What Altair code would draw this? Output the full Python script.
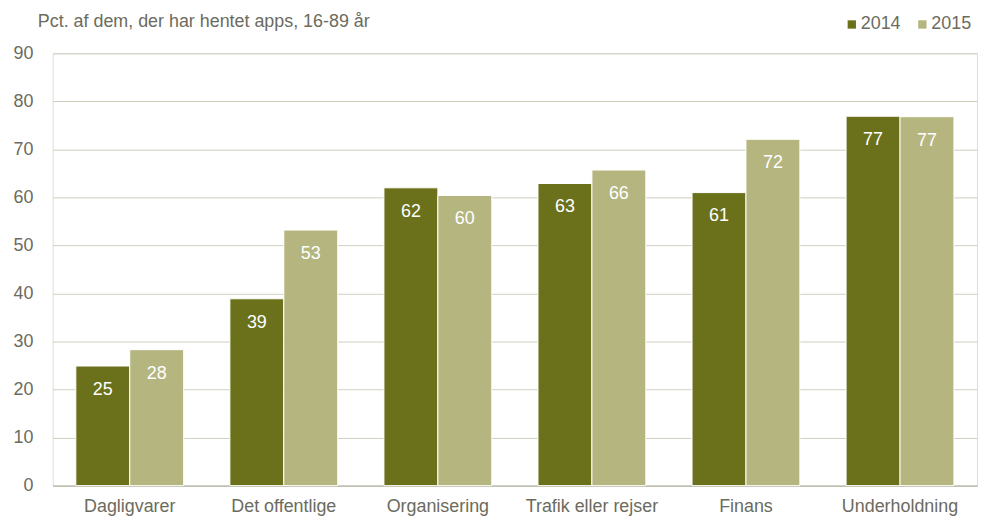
import altair as alt
import pandas as pd

categories = ["Dagligvarer", "Det offentlige", "Organisering", "Trafik eller rejser", "Finans", "Underholdning"]
years = ["2014", "2015"]
values_2014 = [24.9, 38.9, 62.0, 62.9, 61.0, 76.9]
values_2015 = [28.3, 53.2, 60.4, 65.7, 72.1, 76.8]
title_text = "Pct. af dem, der har hentet apps, 16-89 år"
y_ticks = [0, 10, 20, 30, 40, 50, 60, 70, 80, 90]

rows = []
for c, a, b in zip(categories, values_2014, values_2015):
    rows.append({"kategori": c, "år": "2014", "værdi": a, "label": str(round(a))})
    rows.append({"kategori": c, "år": "2015", "værdi": b, "label": str(round(b))})
df = pd.DataFrame(rows)

FONT = "Liberation Sans, Arial, sans-serif"
TXT = "#6b6b5e"
colors = ["#6b711b", "#b5b57f"]

x = alt.X("kategori:N", sort=categories, title=None,
          scale=alt.Scale(paddingInner=0.3, paddingOuter=0.15),
          axis=alt.Axis(labelAngle=0, labelFontSize=18, labelColor=TXT, labelFont=FONT,
                        ticks=False, domainColor="#b9b9a8", domainWidth=1.5, labelPadding=12))
y = alt.Y("værdi:Q", title=None,
          scale=alt.Scale(domain=[0, 90], nice=False),
          axis=alt.Axis(values=y_ticks, labelFontSize=18, labelColor=TXT, labelFont=FONT,
                        ticks=False, domain=False, labelPadding=20,
                        gridColor="#cfcfc0", gridWidth=1))
xo = alt.XOffset("år:N", sort=years, scale=alt.Scale(paddingInner=0))

base = alt.Chart(df)

bars = base.mark_bar(stroke="white", strokeWidth=1).encode(
    x=x, y=y, xOffset=xo,
    color=alt.Color("år:N", sort=years, scale=alt.Scale(domain=years, range=colors),
                    legend=alt.Legend(title=None, orient="none", legendX=795, legendY=-38,
                                      direction="horizontal", symbolType="square",
                                      symbolSize=70, symbolStrokeWidth=0,
                                      labelFontSize=18, labelColor=TXT, labelFont=FONT,
                                      columnPadding=12, labelOffset=0)),
)

labels = base.mark_text(color="white", fontSize=18, font=FONT, baseline="top", dy=15).encode(
    x=x, y=y, xOffset=xo, text="label:N"
)

title = alt.Chart(pd.DataFrame({"t": [title_text]})).mark_text(
    align="left", baseline="middle", fontSize=18, font=FONT, color=TXT
).encode(x=alt.value(-15), y=alt.value(-31), text="t:N")

chart = (bars + labels + title).properties(
    width=930, height=435,
    autosize=alt.AutoSizeParams(type="none"),
    padding={"left": 45, "top": 44, "right": 5, "bottom": 32},
).configure_view(stroke=None).configure(background="white")

chart.save("out.html", embed_options={"renderer": "svg", "actions": False})
